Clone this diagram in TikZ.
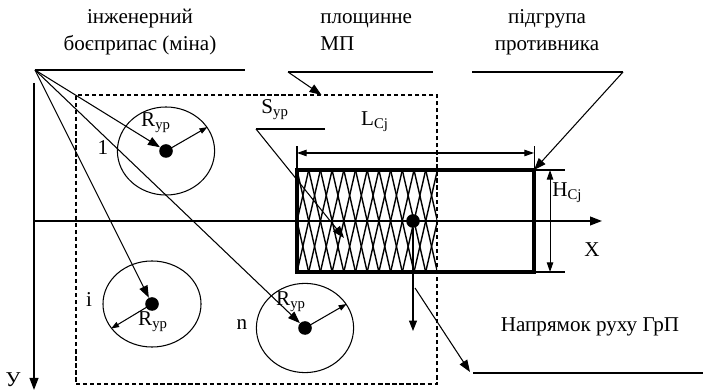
\documentclass[tikz,border=0pt]{standalone}
\usepackage{fontspec}
\setmainfont{Liberation Serif}
\usetikzlibrary{arrows.meta, positioning, calc, shapes.geometric}

\begin{document}
\begin{tikzpicture}[
    x=0.025cm, y=-0.025cm,
    >={Triangle[length=3mm, width=2.2mm]},
    txt/.style={font=\fontsize{15}{19}\selectfont, inner sep=0pt, align=center},
    ln/.style={line width=0.75pt},
    axis/.style={line width=1.1pt, -{Triangle[length=3mm, width=2.2mm]}},
    zone/.style={draw, ellipse, line width=0.75pt, minimum width=2.43cm, minimum height=2.2cm, inner sep=0pt},
    mine/.style={circle, fill, inner sep=0pt, minimum size=0.34cm},
    rad/.style={ln, -{Triangle[length=2mm, width=1.4mm]}},
    dim/.style={ln, {Triangle[length=2.4mm, width=1.6mm]}-{Triangle[length=2.4mm, width=1.6mm]}},
]
    \useasboundingbox (0,0) rectangle (703,392);

    % hatched part of the group inside the minefield
    \begin{scope}
        \clip (297,170) rectangle (437,272);
        \foreach \k in {-3,...,14} {
            \draw[line width=1pt] (297+11.7*\k,170) -- ++(23.4,102);
            \draw[line width=1pt] (297+11.7*\k,170) -- ++(-23.4,102);
        }
    \end{scope}
    \node[draw, line width=2.6pt, outer sep=0pt, inner sep=0pt, minimum width=5.925cm, minimum height=2.55cm] (grp) at (415.5,221) {};
    \node[draw, dashed, dash pattern=on 3pt off 2pt, line width=0.9pt, outer sep=0pt, inner sep=0pt, minimum width=9.025cm, minimum height=7.225cm] (mpzone) at (256.5,239.5) {};

    % axes
    \coordinate (o) at (34,221);
    \coordinate (xend) at (602,221);
    \coordinate (ytop) at (34,83);
    \coordinate (yend) at (34,390);
    \draw[axis] (o) -- (xend);
    \draw[axis] (ytop) -- (yend);
    \node[txt] (xlbl) at (592,250) {X};
    \node[txt] (ylbl) at (13,380) {У};

    % mines
    \node[zone] (z1) at (166,151) {};
    \node[mine] (d1) at (z1.center) {};
    \node[zone, minimum width=2.45cm, minimum height=2.15cm] (zi) at (152,304) {};
    \node[mine] (di) at (zi.center) {};
    \node[zone, minimum height=2.23cm] (zn) at (305,328) {};
    \node[mine] (dn) at (zn.center) {};
    \draw[rad] (d1.center) -- (z1.30);
    \draw[rad] (di.center) -- (zi.211);
    \draw[rad] (dn.center) -- (zn.30);
    \node[txt] (r1) at (156,123) {R\textsubscript{ур}};
    \node[txt] (ri) at (153,322) {R\textsubscript{ур}};
    \node[txt] (rn) at (291,302) {R\textsubscript{ур}};
    \node[txt] (n1) at (103,148) {1};
    \node[txt] (ni) at (89,300) {i};
    \node[txt] (nn) at (242,325) {n};

    % top callouts
    \node[txt] (ammo) at (140,32) {інженерний\\боєприпас (міна)};
    \node[txt, align=left, anchor=west] (mp) at (320,32) {площинне\\МП};
    \node[txt] (grptxt) at (547,32) {підгрупа\\противника};

    \coordinate (apex) at (35,70);
    \coordinate (ammoend) at (245,70);
    \draw[ln] (apex) -- (ammoend);
    \draw[ln,->] (apex) -- (d1);
    \draw[ln,->] (apex) -- (di);
    \draw[ln,->] (apex) -- (dn);

    \coordinate (mpA) at (288,72);
    \coordinate (mpB) at (433,72);
    \draw[ln] (mpA) -- (mpB);
    \draw[ln,->] (mpA) -- ($(mpzone.north west)!0.68!(mpzone.north east)$);

    \coordinate (grA) at (472,72);
    \coordinate (grB) at (623,72);
    \draw[ln] (grA) -- (grB);
    \draw[ln,->] (grB) -- (grp.north east);

    % affected area
    \node[txt] (slbl) at (275,110) {S\textsubscript{ур}};
    \coordinate (syA) at (256,129);
    \coordinate (syB) at (325,129);
    \coordinate (sytip) at (344,238);
    \draw[ln] (syB) -- (syA);
    \draw[ln,->] (syA) -- (sytip);

    % dimensions of the group
    \draw[ln] (grp.north west) -- ++(0,-24);
    \draw[ln] (grp.north east) -- ++(0,-24);
    \coordinate (lL) at ($(grp.north west)+(0,-17)$);
    \coordinate (lR) at ($(grp.north east)+(0,-17)$);
    \draw[dim] (lL) -- (lR);
    \node[txt] (llbl) at (375,122) {L\textsubscript{Cj}};

    \draw[ln] (grp.north east) -- ++(31,0);
    \draw[ln] (grp.south east) -- ++(31,0);
    \coordinate (hT) at ($(grp.north east)+(16,0)$);
    \coordinate (hB) at ($(grp.south east)+(16,0)$);
    \draw[dim] (hT) -- (hB);
    \node[txt, anchor=west] (hlbl) at (552,193) {H\textsubscript{Cj}};

    % direction of movement
    \node[mine] (gc) at (413,221) {};
    \coordinate (mvend) at (413,331);
    \draw[ln,-{Triangle[length=2.6mm, width=2mm]}] (gc) -- (mvend);
    \node[txt] (mvtxt) at (590,327) {Напрямок руху ГрП};
    \coordinate (mvA) at (415,288);
    \coordinate (mvB) at (470,372);
    \coordinate (mvC) at (703,373);
    \draw[ln,->] (mvA) -- (mvB);
    \draw[ln] ($(mvB)+(3,1)$) -- (mvC);
\end{tikzpicture}
\end{document}
